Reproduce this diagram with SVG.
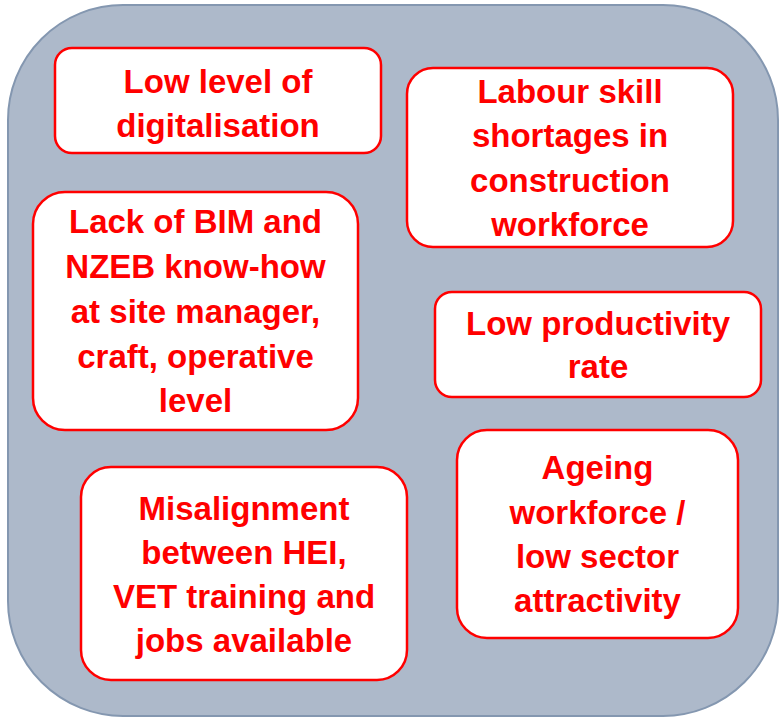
<svg xmlns="http://www.w3.org/2000/svg" width="779" height="718" viewBox="0 0 779 718">
<style>
.box{fill:#ffffff;stroke:#ff0000;stroke-width:2.5}
.t{font-family:"Liberation Sans",Arial,sans-serif;font-weight:bold;font-size:33px;fill:#ff0000;text-anchor:middle}
</style>
<rect id="frame" x="8" y="5" width="770" height="711" rx="115" ry="115" fill="#adb9ca" stroke="#8497b0" stroke-width="2"/>
<g id="n1">
<rect class="box" x="55" y="48" width="326" height="105" rx="17"/>
<text class="t" x="218" y="93">Low level of</text>
<text class="t" x="218" y="137">digitalisation</text>
</g>
<g id="n2">
<rect class="box" x="407" y="68" width="326" height="179" rx="26"/>
<text class="t" x="570" y="103">Labour skill</text>
<text class="t" x="570" y="147">shortages in</text>
<text class="t" x="570" y="192">construction</text>
<text class="t" x="570" y="236">workforce</text>
</g>
<g id="n3">
<rect class="box" x="33" y="192" width="325" height="238" rx="32"/>
<text class="t" x="195.5" y="233">Lack of BIM and</text>
<text class="t" x="195.5" y="278">NZEB know-how</text>
<text class="t" x="195.5" y="323">at site manager,</text>
<text class="t" x="195.5" y="368">craft, operative</text>
<text class="t" x="195.5" y="412">level</text>
</g>
<g id="n4">
<rect class="box" x="435" y="292" width="326" height="105" rx="17"/>
<text class="t" x="598" y="335">Low productivity</text>
<text class="t" x="598" y="378">rate</text>
</g>
<g id="n5">
<rect class="box" x="457" y="430" width="281" height="208" rx="30"/>
<text class="t" x="597.5" y="479">Ageing</text>
<text class="t" x="597.5" y="524">workforce /</text>
<text class="t" x="597.5" y="568">low sector</text>
<text class="t" x="597.5" y="612">attractivity</text>
</g>
<g id="n6">
<rect class="box" x="81" y="467" width="326" height="213" rx="30"/>
<text class="t" x="244" y="520">Misalignment</text>
<text class="t" x="244" y="564">between HEI,</text>
<text class="t" x="244" y="608">VET training and</text>
<text class="t" x="244" y="652">jobs available</text>
</g>
<g id="connectors"></g>
</svg>
